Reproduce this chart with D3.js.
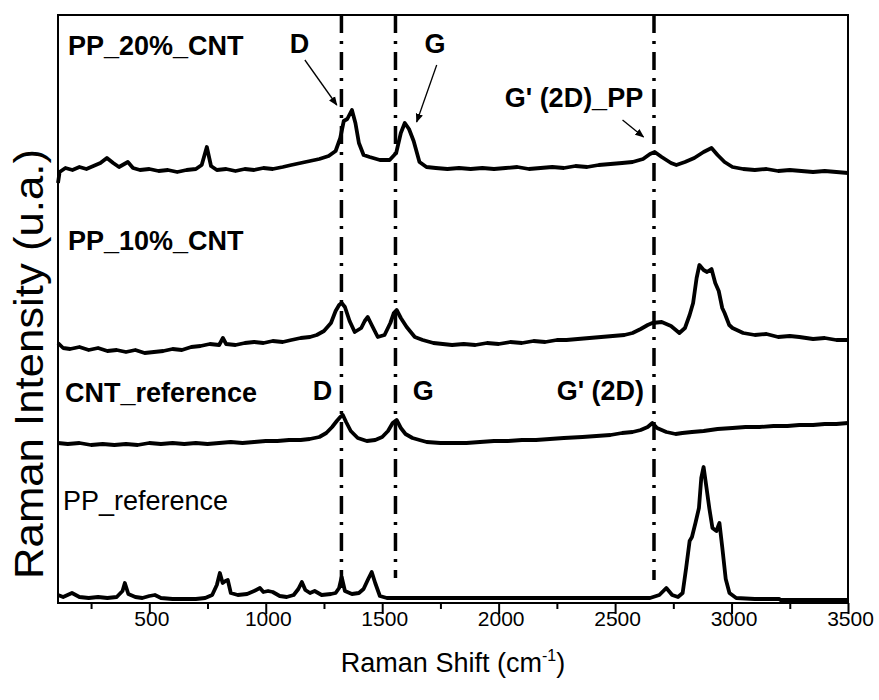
<!DOCTYPE html>
<html>
<head>
<meta charset="utf-8">
<script src="https://cdn.jsdelivr.net/npm/d3@7"></script>
<style>
  body { margin: 0; background: #fff; }
  text { font-family: Arial, "Liberation Sans", sans-serif; fill: #000; }
</style>
</head>
<body>
<div id="chart"></div>
<script>
// Raman spectra, [shift (cm-1), intensity (a.u., stacked)]
const pp20 = [
  [108,420],[115,431],[140,435],[170,433],[200,436],[230,434],[260,437],[290,440],[318,445],[345,440],
  [370,436],[408,441],[430,435],[460,433],[500,434],[540,432],[580,433],[620,431],[660,433],[700,434],
  [725,438],[747,456],[765,437],[790,433],[830,434],[870,432],[910,434],[950,433],[990,435],[1030,434],
  [1073,436],[1110,438],[1150,440],[1190,442],[1230,444],[1270,447],[1300,452],[1320,465],[1335,482],
  [1350,484],[1370,493],[1385,480],[1400,460],[1420,448],[1446,446],[1490,443],[1532,443],[1560,450],
  [1580,470],[1597,480],[1615,474],[1635,462],[1660,441],[1690,436],[1730,435],[1780,434],[1830,435],
  [1880,434],[1930,435],[1980,434],[2030,435],[2080,436],[2130,434],[2180,435],[2230,436],[2280,435],
  [2330,437],[2380,436],[2430,438],[2480,439],[2530,440],[2575,441],[2620,444],[2650,449],[2670,451],
  [2700,446],[2740,440],[2763,438],[2800,441],[2840,445],[2880,451],[2914,455],[2940,448],[2970,441],
  [3004,436],[3050,434],[3100,433],[3150,434],[3200,432],[3250,433],[3300,432],[3350,431],[3400,432],
  [3450,431],[3500,430]
];
const pp10 = [
  [108,260],[130,255],[160,254],[200,256],[240,253],[280,255],[320,252],[360,253],[400,251],[440,253],
  [480,250],[520,251],[560,252],[600,254],[640,253],[680,256],[720,257],[760,259],[800,258],[816,265],
  [830,259],[870,258],[910,260],[950,261],[990,260],[1030,262],[1073,261],[1110,263],[1150,265],[1190,266],
  [1219,268],[1250,272],[1280,280],[1300,292],[1315,298],[1326,300],[1340,296],[1360,282],[1382,271],
  [1410,275],[1425,282],[1438,286],[1455,278],[1481,266],[1510,268],[1535,280],[1550,290],[1562,293],
  [1580,285],[1605,276],[1640,266],[1674,263],[1720,260],[1760,259],[1800,258],[1850,259],[1900,258],
  [1950,260],[2000,259],[2050,261],[2100,260],[2150,262],[2200,261],[2250,263],[2291,263],[2340,264],
  [2390,265],[2440,266],[2490,267],[2540,268],[2575,270],[2610,274],[2640,278],[2660,280],[2700,281],
  [2740,277],[2776,270],[2800,275],[2820,288],[2835,300],[2850,325],[2862,338],[2880,333],[2895,331],
  [2914,334],[2930,320],[2945,312],[2960,295],[2970,290],[2990,278],[3004,275],[3050,270],[3100,268],
  [3150,269],[3200,266],[3250,267],[3291,266],[3350,264],[3400,265],[3450,263],[3500,263]
];
const cntRef = [
  [108,160],[150,159],[200,160],[250,158],[300,159],[350,158],[400,159],[450,158],[500,160],[550,159],
  [600,160],[650,159],[700,160],[750,159],[800,160],[850,161],[900,160],[950,161],[1000,162],[1050,162],
  [1100,163],[1150,163],[1189,164],[1230,166],[1260,170],[1285,176],[1305,182],[1320,186],[1331,188],
  [1345,181],[1365,172],[1395,165],[1434,162],[1470,163],[1500,166],[1525,172],[1545,180],[1562,183],
  [1580,175],[1600,169],[1630,165],[1660,163],[1691,161],[1750,160],[1800,160],[1862,160],[1920,161],
  [1980,162],[2040,162],[2100,163],[2160,163],[2220,164],[2280,165],[2360,166],[2420,167],[2480,168],
  [2530,170],[2575,171],[2610,173],[2640,176],[2660,180],[2680,175],[2720,171],[2760,169],[2789,170],
  [2830,171],[2880,172],[2940,174],[3004,175],[3060,176],[3120,176],[3180,177],[3240,177],[3291,178],
  [3350,178],[3400,179],[3450,179],[3500,180]
];
const ppRef = [
  [108,8],[130,6],[168,10],[200,6],[240,5],[280,6],[320,5],[360,6],[385,12],[395,20],[410,9],[440,6],
  [470,5],[500,7],[524,8],[550,5],[600,4],[650,4],[700,4],[740,5],[770,8],[790,18],[803,30],[815,20],
  [827,22],[837,23],[850,10],[880,8],[920,9],[950,12],[975,15],[990,11],[1010,12],[1030,11],[1060,7],
  [1090,6],[1120,8],[1140,14],[1155,21],[1170,13],[1190,10],[1210,12],[1240,8],[1280,9],[1300,10],
  [1315,15],[1326,26],[1340,12],[1370,9],[1400,10],[1420,14],[1440,24],[1455,31],[1470,20],[1490,7],
  [1520,5],[1700,5],[1900,5],[2100,5],[2300,5],[2500,5],[2650,5],[2690,8],[2720,15],[2745,8],[2770,6],
  [2790,10],[2805,35],[2820,62],[2830,66],[2845,80],[2860,95],[2870,125],[2880,136],[2892,116],[2905,94],
  [2918,75],[2935,72],[2948,80],[2960,56],[2975,24],[2991,10],[3020,5],[3100,4],[3205,4],[3210,3],[3500,3]
];
const series = [pp20, pp10, cntRef, ppRef];

// dash-dot guides: [shift, from, to]
const guides = [[1325, 588, 10], [1557, 588, 25], [2667, 588, 23]];

// labels: [text, shift, intensity, bold]
const labels = [
  ['PP_20%_CNT', 151, 548, true],
  ['D', 1103, 550, true],
  ['G', 1682, 550, true],
  ["G' (2D)_PP", 2026, 496, true],
  ['PP_10%_CNT', 151, 353, true],
  ['CNT_reference', 138, 201, true],
  ['D', 1202, 203, true],
  ['G', 1631, 203, true],
  ["G' (2D)", 2249, 203, true],
  ['PP_reference', 129, 93, false]
];
// arrows: [shift0, int0, shift1, int1]
const arrows = [
  [1168, 543, 1305, 498],
  [1734, 538, 1648, 481],
  [2532, 483, 2622, 466]
];

const majorTicks = [500, 1000, 1500, 2000, 2500, 3000, 3500];
const minorTicks = [250, 750, 1250, 1750, 2250, 2750, 3250];

const W = 879, H = 700;
const svg = d3.select('#chart').append('svg').attr('width', W).attr('height', H);

const x = d3.scaleLinear().domain([108, 3500]).range([58, 848]);
const y = d3.scaleLinear().domain([0, 588]).range([603, 15]);

svg.append('defs').append('marker')
  .attr('id', 'arr').attr('viewBox', '0 0 10 10')
  .attr('refX', 9).attr('refY', 5)
  .attr('markerWidth', 7).attr('markerHeight', 7)
  .attr('orient', 'auto')
  .append('path').attr('d', 'M0,1 L10,5 L0,9 Z').attr('fill', '#000');

// axes
let gMinor = svg.append('g').attr('transform', 'translate(0,603)')
  .call(d3.axisBottom(x).tickValues(minorTicks).tickSize(6).tickSizeOuter(0).tickFormat(''));
let gMajor = svg.append('g').attr('transform', 'translate(0,603)')
  .call(d3.axisBottom(x).tickValues(majorTicks).tickSize(11).tickSizeOuter(0).tickFormat(d3.format('d')));
[gMinor, gMajor].forEach(g => {
  g.select('.domain').remove();
  g.selectAll('.tick line').attr('stroke', '#000').attr('stroke-width', 2);
});
gMajor.selectAll('.tick text')
  .attr('y', 23).attr('dy', 0).attr('dx', 2)
  .style('font-size', '21px').style('font-family', 'Arial, "Liberation Sans", sans-serif');

// frame
svg.append('rect')
  .attr('x', x.range()[0]).attr('y', y.range()[1])
  .attr('width', x.range()[1] - x.range()[0])
  .attr('height', y.range()[0] - y.range()[1])
  .attr('fill', 'none').attr('stroke', '#000').attr('stroke-width', 2);

// guides
svg.append('g').selectAll('line').data(guides).enter().append('line')
  .attr('x1', d => x(d[0])).attr('x2', d => x(d[0]))
  .attr('y1', d => y(d[1])).attr('y2', d => y(d[2]))
  .attr('stroke', '#000').attr('stroke-width', 3.5)
  .attr('stroke-dasharray', '18,8,3,8');

// spectra
const line = d3.line().x(d => x(d[0])).y(d => y(d[1]));
svg.append('g').selectAll('path').data(series).enter().append('path')
  .attr('d', line)
  .attr('fill', 'none').attr('stroke', '#000')
  .attr('stroke-width', 3.8).attr('stroke-linejoin', 'round');

// labels
svg.append('g').selectAll('text').data(labels).enter().append('text')
  .attr('x', d => x(d[1])).attr('y', d => y(d[2]))
  .style('font-size', '27px')
  .style('font-weight', d => d[3] ? 'bold' : 'normal')
  .text(d => d[0]);

svg.append('g').selectAll('line').data(arrows).enter().append('line')
  .attr('x1', d => x(d[0])).attr('y1', d => y(d[1]))
  .attr('x2', d => x(d[2])).attr('y2', d => y(d[3]))
  .attr('stroke', '#000').attr('stroke-width', 1.3)
  .attr('marker-end', 'url(#arr)');

// axis titles
let xt = svg.append('text')
  .attr('x', (x.range()[0] + x.range()[1]) / 2).attr('y', 672)
  .attr('text-anchor', 'middle')
  .style('font-size', '27px');
xt.append('tspan').text('Raman Shift (cm');
xt.append('tspan').attr('dy', -11).style('font-size', '16px').text('-1');
xt.append('tspan').attr('dy', 11).text(')');

svg.append('text')
  .attr('transform', 'translate(43,364) rotate(-90)')
  .attr('text-anchor', 'middle')
  .attr('textLength', 430).attr('lengthAdjust', 'spacingAndGlyphs')
  .style('font-size', '40px')
  .text('Raman Intensity (u.a.)');
</script>
</body>
</html>
